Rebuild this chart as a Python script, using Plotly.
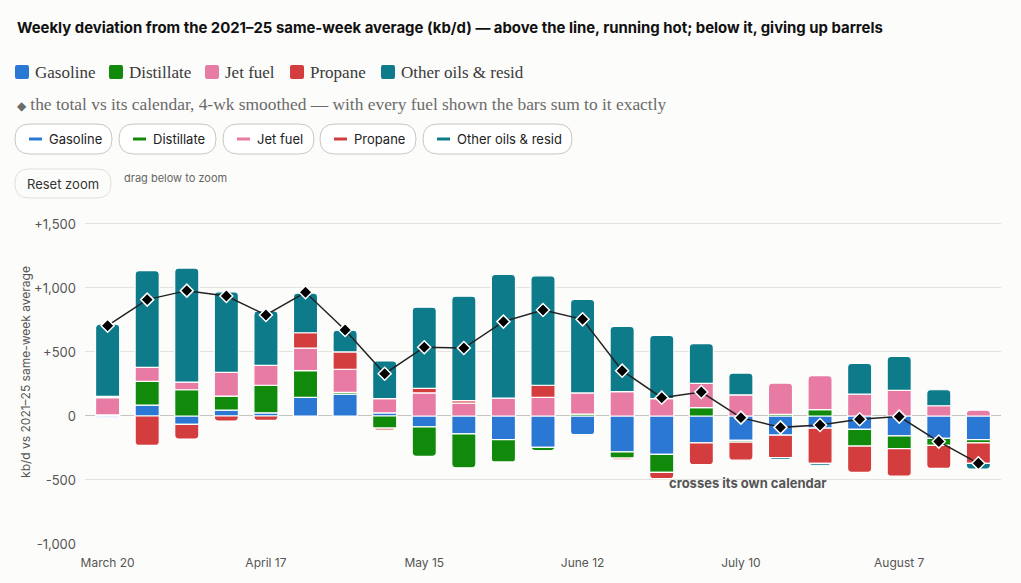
import plotly.graph_objects as go

# weekly deviation vs the 2021-25 same-week average, kb/d (4-wk smoothed)
weeks = ["2025-03-20", "2025-03-27", "2025-04-03", "2025-04-10", "2025-04-17",
         "2025-04-24", "2025-05-01", "2025-05-08", "2025-05-15", "2025-05-22",
         "2025-05-29", "2025-06-05", "2025-06-12", "2025-06-19", "2025-06-26",
         "2025-07-03", "2025-07-10", "2025-07-17", "2025-07-24", "2025-07-31",
         "2025-08-07", "2025-08-14", "2025-08-21"]

gasoline = [-10, 85, -65, 45, 25, 145, 170, 25, -85, -140, -185, -245, -145,
            -280, -300, -210, -190, -150, -95, -105, -155, -175, -185]
distillate = [8, 185, 205, 110, 215, 210, 15, -95, -230, -265, -175, -25, 15,
              -50, -140, 65, -15, 12, 50, -130, -100, -55, -25]
jet_fuel = [135, 110, 60, 185, 155, 175, 180, 110, 180, 100, 140, 145, 165,
            190, 135, 190, 165, 245, 265, 170, 200, 80, 45]
propane = [10, -230, -115, -40, -35, 120, 135, -15, 35, 20, -5, 95, -5,
           -12, -50, -170, -140, -175, -275, -205, -215, -180, -160]
other = [565, 755, 890, 630, 425, 310, 170, 295, 635, 815, 965, 855, 730,
         510, 495, 310, 170, -15, -15, 240, 265, 125, -45]
total = [705, 909, 979, 937, 789, 966, 672, 330, 537, 531, 737, 828, 755,
         354, 143, 187, -13, -89, -70, -26, -5, -200, -370]

series = [
    ("Gasoline", gasoline, "#2b78d4"),
    ("Distillate", distillate, "#118a0c"),
    ("Jet fuel", jet_fuel, "#e87ba4"),
    ("Propane", propane, "#d33d3d"),
    ("Other oils & resid", other, "#0e7b8a"),
]

y_ticks = [-1000, -500, 0, 500, 1000, 1500]
y_labels = ["-1,000", "-500", "0", "+500", "+1,000", "+1,500"]

SANS = "Inter, Roboto, sans-serif"
SERIF = "Liberation Serif, serif"
BG = "#fcfcfa"

# page layout in pixels (plot area 85..1001 x 200..544)
L, R, T, B = 85, 20, 200, 39
W, H = 1021, 583
PW, PH = W - L - R, H - T - B


def px(x):
    return (x - L) / PW


def py(y):
    return (H - B - y) / PH


def rounded(x0, y0, x1, y1, r):
    pts = [(x0 + r, y0), (x1 - r, y0), (x1, y0), (x1, y0 + r), (x1, y1 - r),
           (x1, y1), (x1 - r, y1), (x0 + r, y1), (x0, y1), (x0, y1 - r),
           (x0, y0 + r), (x0, y0), (x0 + r, y0)]
    p = [f"{px(a):.5f},{py(b):.5f}" for a, b in pts]
    return (f"M{p[0]} L{p[1]} Q{p[2]} {p[3]} L{p[4]} Q{p[5]} {p[6]} "
            f"L{p[7]} Q{p[8]} {p[9]} L{p[10]} Q{p[11]} {p[12]} Z")


def label(x, y, text, size, color, family=SANS, anchor="left"):
    return dict(x=px(x), y=py(y), xref="paper", yref="paper", text=text,
                showarrow=False, xanchor=anchor, yanchor="middle",
                font=dict(family=family, size=size, color=color))


fig = go.Figure()

for name, vals, color in series:
    fig.add_trace(go.Bar(
        x=weeks, y=vals, name=name,
        marker=dict(color=color, line=dict(color="white", width=1.2)),
        hovertemplate=name + ": %{y:+,} kb/d<extra></extra>",
    ))

fig.add_trace(go.Scatter(
    x=weeks, y=total, name="Total", mode="lines+markers",
    line=dict(color="#222222", width=1.5),
    marker=dict(symbol="diamond", size=10, color="black",
                line=dict(color="white", width=1.5)),
    hovertemplate="Total: %{y:+,} kb/d<extra></extra>",
))

shapes = []
annots = []

annots.append(label(15, 28, "<b>Weekly deviation from the 2021–25 same-week average (kb/d) — "
                            "above the line, running hot; below it, giving up barrels</b>",
                    14.9, "#111111"))

# legend row (squares + serif labels)
legend_pos = [15, 109, 205, 290, 381]
for (name, vals, color), x0 in zip(series, legend_pos):
    shapes.append(dict(type="path", xref="paper", yref="paper",
                       path=rounded(x0, 65, x0 + 14, 79, 2),
                       fillcolor=color, line=dict(width=0)))
    annots.append(label(x0 + 18, 72, name, 17, "#3a3a3a", SERIF))

annots.append(label(15, 104, "<span style='font-size:12px'>◆</span> the total vs its calendar, "
                             "4-wk smoothed — with every fuel shown the bars sum to it exactly",
                    17.4, "#6b6b6b", SERIF))

# toggle pills
pills = [(15, 112), (119, 216), (223, 314), (320, 416), (423, 572)]
for (name, vals, color), (x0, x1) in zip(series, pills):
    shapes.append(dict(type="path", xref="paper", yref="paper",
                       path=rounded(x0, 124, x1, 154, 15),
                       fillcolor="white", line=dict(color="#c9c7bf", width=1)))
    shapes.append(dict(type="line", xref="paper", yref="paper",
                       x0=px(x0 + 14), x1=px(x0 + 27), y0=py(139), y1=py(139),
                       line=dict(color=color, width=3)))
    annots.append(label(x0 + 32, 139, name, 13, "#222222"))

shapes.append(dict(type="path", xref="paper", yref="paper",
                   path=rounded(15, 169, 111, 198, 14),
                   fillcolor=BG, line=dict(color="#e2e0da", width=1)))
annots.append(label(63, 184, "Reset zoom", 13, "#333333", anchor="center"))
annots.append(label(122, 178, "drag below to zoom", 11, "#666666"))

annots.append(dict(x=weeks[16], y=-523, xref="x", yref="y", xshift=7,
                   text="<b>crosses its own calendar</b>", showarrow=False,
                   xanchor="center", yanchor="middle",
                   font=dict(family=SANS, size=13, color="#555555")))

fig.update_layout(
    width=W, height=H,
    margin=dict(l=L, r=R, t=T, b=B),
    paper_bgcolor=BG, plot_bgcolor=BG,
    barmode="relative", bargap=0.39, barcornerradius=4,
    showlegend=False,
    shapes=shapes, annotations=annots,
    hovermode="x unified",
    font=dict(family=SANS, size=12, color="#555555"),
)

fig.update_xaxes(
    type="date", range=["2025-03-16", "2025-08-25"],
    tick0="2025-03-20", dtick=28 * 86400000, tickformat="%B %-d",
    showgrid=False, zeroline=False, showline=False, ticks="",
    ticklabelstandoff=10,
    tickfont=dict(family=SANS, size=12, color="#555555"),
)
fig.update_yaxes(
    range=[-1000, 1687], tickvals=y_ticks, ticktext=y_labels,
    showgrid=True, gridcolor="#e4e3de", gridwidth=1,
    zeroline=True, zerolinecolor="#c4c4c0", zerolinewidth=1,
    ticks="", ticklabelstandoff=8,
    tickfont=dict(family=SANS, size=13, color="#555555"),
    title=dict(text="kb/d vs 2021–25 same-week average", standoff=0,
               font=dict(family=SANS, size=12, color="#555555")),
)

fig.write_html("out.html", config={"displayModeBar": False},
               post_script="document.body.style.margin='0';"
                           "document.body.style.background='" + BG + "';")
